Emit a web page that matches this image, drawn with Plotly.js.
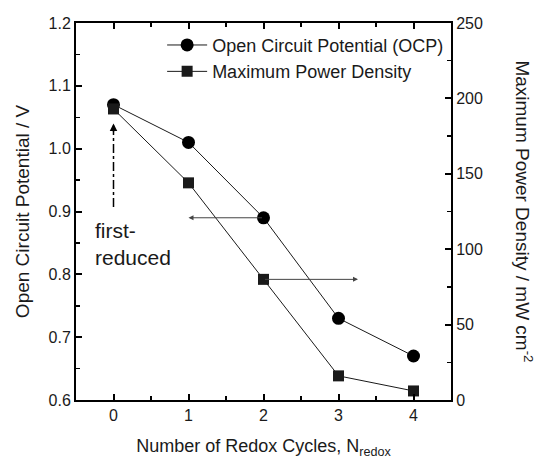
<!DOCTYPE html>
<html>
<head>
<meta charset="utf-8">
<script src="https://cdn.plot.ly/plotly-3.0.1.min.js"></script>
<style>html,body{margin:0;padding:0;background:#fff;}#chart{width:546px;height:460px;}</style>
</head>
<body>
<div id="chart"></div>
<script>
const cycles = [0, 1, 2, 3, 4];
const ocp = [1.07, 1.01, 0.89, 0.73, 0.67];
const mpd = [193, 144, 80, 16, 6];
const xTicks = [0, 1, 2, 3, 4];
const ocpName = "Open Circuit Potential (OCP)";
const mpdName = "Maximum Power Density";

const FONT = "Liberation Sans, Arial, sans-serif";
const INK = "#1a1a1a";

const traces = [
  {x: cycles, y: ocp, name: ocpName, type: "scatter", mode: "lines+markers",
   line: {color: INK, width: 1}, marker: {symbol: "circle", size: 13, color: "#000"},
   yaxis: "y"},
  {x: cycles, y: mpd, name: mpdName, type: "scatter", mode: "lines+markers",
   line: {color: INK, width: 1}, marker: {symbol: "square", size: 11, color: "#1a1a1a"},
   yaxis: "y2"}
];

const layout = {
  width: 546, height: 460,
  margin: {l: 76, r: 95, t: 23, b: 60},
  paper_bgcolor: "#fff", plot_bgcolor: "#fff",
  font: {family: FONT, size: 16, color: INK},
  showlegend: true,
  legend: {x: 0.995, xanchor: "right", y: 0.99, yanchor: "top",
           bgcolor: "rgba(0,0,0,0)", font: {size: 18, color: INK},
           tracegroupgap: 0, itemwidth: 40},
  xaxis: {range: [-0.5, 4.5], tickvals: xTicks, ticktext: xTicks.map(String),
          ticks: "inside", ticklen: 6, tickwidth: 2, tickcolor: "#000",
          showline: true, linewidth: 2, linecolor: "#000", mirror: "ticks",
          showgrid: false, zeroline: false,
          minor: {dtick: 0.5, tick0: 0.5, ticks: "inside", ticklen: 4, tickwidth: 1.5, tickcolor: "#000"},
          tickfont: {size: 16},
          title: {text: "Number of Redox Cycles, N<sub>redox</sub>", font: {size: 18}, standoff: 16}},
  yaxis: {range: [0.6, 1.2], dtick: 0.1, tick0: 0.6, tickformat: ".1f",
          ticks: "inside", ticklen: 6, tickwidth: 2, tickcolor: "#000",
          showline: true, linewidth: 2, linecolor: "#000",
          showgrid: false, zeroline: false,
          minor: {dtick: 0.05, ticks: "inside", ticklen: 4, tickwidth: 1.5, tickcolor: "#000"},
          tickfont: {size: 16},
          title: {text: "Open Circuit Potential / V", font: {size: 19}, standoff: 14}},
  yaxis2: {range: [0, 250], dtick: 50, overlaying: "y", side: "right",
           ticks: "inside", ticklen: 6, tickwidth: 2, tickcolor: "#000",
           showline: true, linewidth: 2, linecolor: "#000",
           showgrid: false, zeroline: false,
           minor: {dtick: 25, ticks: "inside", ticklen: 4, tickwidth: 1.5, tickcolor: "#000"},
           tickfont: {size: 16}},
  shapes: [
    {type: "line", xref: "x", yref: "y", x0: 0, x1: 0, y0: 0.907, y1: 1.03,
     line: {color: "#000", width: 1.5, dash: "dashdot"}}
  ],
  annotations: [
    {xref: "x", yref: "y", axref: "x", ayref: "y", x: 0, y: 1.04, ax: 0, ay: 1.025,
     text: "", showarrow: true, arrowhead: 2, arrowsize: 1, arrowwidth: 1.5, arrowcolor: "#000"},
    {xref: "x", yref: "y", axref: "x", ayref: "y", x: 1.0, y: 0.89, ax: 2, ay: 0.89,
     text: "", showarrow: true, arrowhead: 2, arrowsize: 1, arrowwidth: 1, arrowcolor: "#444"},
    {xref: "x", yref: "y2", axref: "x", ayref: "y2", x: 3.26, y: 80, ax: 2, ay: 80,
     text: "", showarrow: true, arrowhead: 2, arrowsize: 1, arrowwidth: 1, arrowcolor: "#444"},
    {xref: "x", yref: "y", x: -0.28, y: 0.848, xanchor: "left", yanchor: "middle", align: "left",
     text: "first-<br>reduced", showarrow: false, font: {size: 21, color: INK}},
    {xref: "paper", yref: "paper", x: 1.195, y: 0.5, xanchor: "center", yanchor: "middle",
     text: "Maximum Power Density / mW cm<sup>-2</sup>", textangle: 90, showarrow: false,
     font: {size: 19, color: INK}}
  ]
};

Plotly.newPlot("chart", traces, layout, {displayModeBar: false, staticPlot: true});
</script>
</body>
</html>
